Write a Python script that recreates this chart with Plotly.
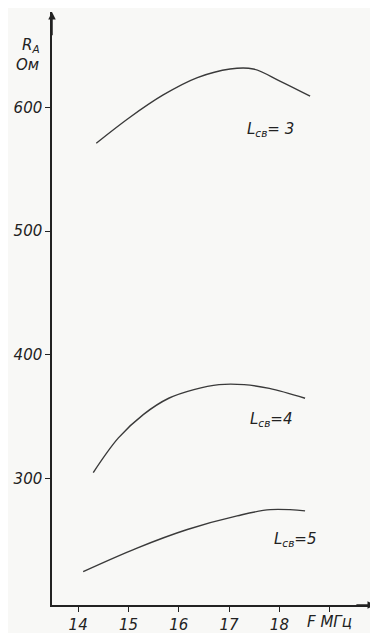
import plotly.graph_objects as go

# Data
f3 = [14.36, 15.03, 15.69, 16.37, 17.02, 17.48, 18.02, 18.61]
r3 = [571, 592, 610, 624, 631, 631, 621, 609]
f4 = [14.30, 14.80, 15.30, 15.80, 16.30, 16.80, 17.30, 17.80, 18.51]
r4 = [305, 333, 352, 365, 372, 376, 376, 373, 365]
f5 = [14.10, 15.17, 16.17, 17.16, 17.82, 18.51]
r5 = [225, 244, 259, 270, 275, 274]

x_ticks = [14, 15, 16, 17, 18, 19]
x_tick_text = ["14", "15", "16", "17", "18", ""]
y_ticks = [300, 400, 500, 600]

x_range = [13.48, 19.9]
y_range = [198, 677]

ink = "#222222"
font = dict(family="DejaVu Sans", size=15, color=ink, style="italic")

fig = go.Figure()
for fx, ry in [(f3, r3), (f4, r4), (f5, r5)]:
    fig.add_trace(go.Scatter(x=fx, y=ry, mode="lines",
                             line=dict(color="#3a3a3a", width=1.4, shape="spline", smoothing=1.0),
                             showlegend=False, hoverinfo="skip"))

fig.update_layout(
    width=370, height=625,
    margin=dict(l=44, r=3, t=4, b=28, autoexpand=False),
    paper_bgcolor="#f8f8f6", plot_bgcolor="#f8f8f6",
    font=font,
    xaxis=dict(range=x_range, tickvals=x_ticks, ticktext=x_tick_text, automargin=False,
               showgrid=False, zeroline=False, showline=True, linecolor=ink, linewidth=1.5,
               ticks="outside", ticklen=5, tickcolor=ink, tickwidth=1.3, tickfont=font),
    yaxis=dict(range=y_range, tickvals=y_ticks, automargin=False,
               showgrid=False, zeroline=False, showline=True, linecolor=ink, linewidth=1.5,
               ticks="outside", ticklen=5, tickcolor=ink, tickwidth=1.3, tickfont=font),
)

# axis arrows
fig.add_annotation(x=x_range[0], y=y_range[1], ax=x_range[0], ay=y_range[1] - 20,
                   xref="x", yref="y", axref="x", ayref="y", showarrow=True,
                   arrowhead=2, arrowsize=1, arrowwidth=1.5, arrowcolor=ink, text="")
fig.add_annotation(x=x_range[1], y=y_range[0], ax=x_range[1] - 0.4, ay=y_range[0],
                   xref="x", yref="y", axref="x", ayref="y", showarrow=True,
                   arrowhead=2, arrowsize=1, arrowwidth=1.5, arrowcolor=ink, text="")

# axis titles
fig.add_annotation(x=-0.065, y=0.944, xref="paper", yref="paper", xanchor="center", yanchor="middle",
                   text="R<sub>A</sub>", showarrow=False, font=font)
fig.add_annotation(x=-0.077, y=0.911, xref="paper", yref="paper", xanchor="center", yanchor="middle",
                   text="Ом", showarrow=False, font=font)
fig.add_annotation(x=19.0, y=-0.029, xref="x", yref="paper", xanchor="center", yanchor="middle",
                   text="F МГц", showarrow=False, font=font)

# curve labels
for xl, yl, t in [(17.82, 582, "L<sub>св</sub>= 3"), (17.84, 348, "L<sub>св</sub>=4"),
                  (18.31, 251, "L<sub>св</sub>=5")]:
    fig.add_annotation(x=xl, y=yl, xref="x", yref="y", text=t, showarrow=False, font=font)

fig.write_html("out.html")
